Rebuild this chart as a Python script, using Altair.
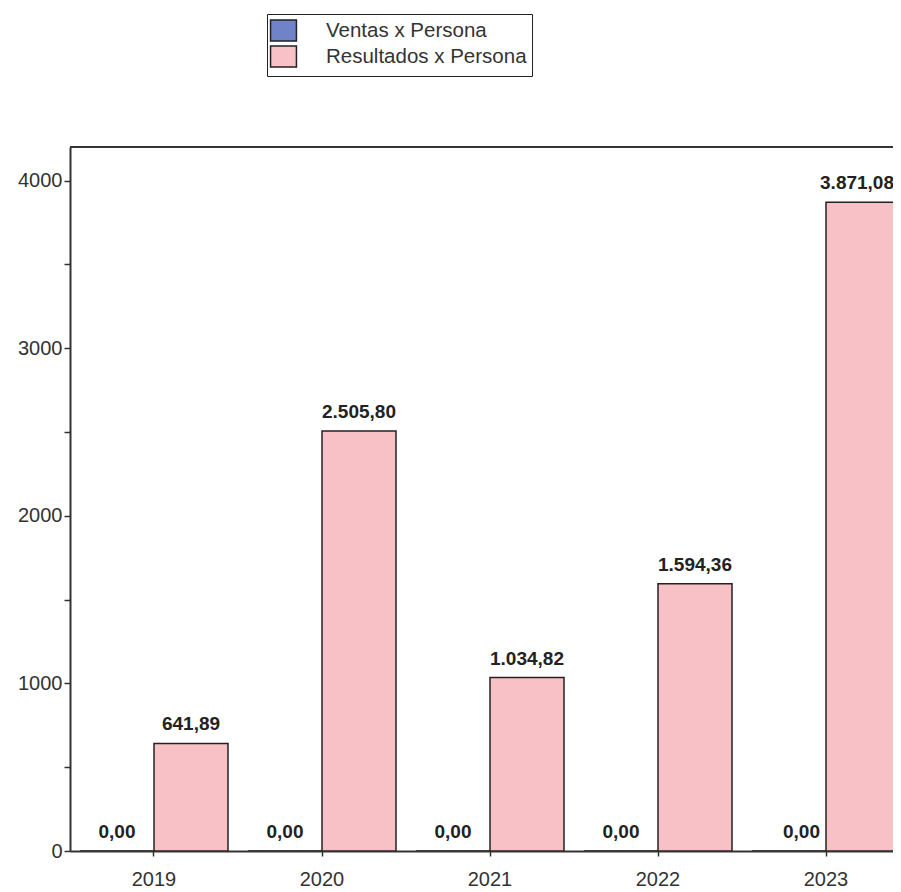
import altair as alt
import pandas as pd

years = ["2019", "2020", "2021", "2022", "2023"]
series = ["Ventas x Persona", "Resultados x Persona"]
ventas = [0.0, 0.0, 0.0, 0.0, 0.0]
resultados = [641.89, 2505.80, 1034.82, 1594.36, 3871.08]
colors = ["#7082c8", "#f8c1c5"]
y_ticks = [0, 500, 1000, 1500, 2000, 2500, 3000, 3500, 4000]


def es_fmt(v):
    s = f"{v:,.2f}"
    return s.replace(",", "X").replace(".", ",").replace("X", ".")


rows = []
for i, y in enumerate(years):
    rows.append({"year": y, "serie": series[0], "value": ventas[i], "label": es_fmt(ventas[i])})
    rows.append({"year": y, "serie": series[1], "value": resultados[i], "label": es_fmt(resultados[i])})
df = pd.DataFrame(rows)

FONT = "Liberation Sans"

xscale = alt.Scale(range=[0, 840], paddingInner=0.119, paddingOuter=0.0595)
yscale = alt.Scale(domain=[0, 4200], nice=False)

base = alt.Chart(df).encode(
    x=alt.X("year:N", scale=xscale, sort=years,
            axis=alt.Axis(title=None, labelAngle=0, labelFont=FONT, labelFontSize=20,
                          labelColor="#333", tickSize=5, tickColor="#333", tickWidth=1.5,
                          domainColor="#333", domainWidth=2, labelPadding=13)),
    xOffset=alt.XOffset("serie:N", sort=series, scale=alt.Scale(paddingInner=0, paddingOuter=0)),
    y=alt.Y("value:Q", scale=yscale,
            axis=alt.Axis(title=None, values=y_ticks, format="d",
                          labelExpr="datum.value % 1000 == 0 ? datum.label : ''",
                          labelFont=FONT, labelFontSize=20, labelColor="#333",
                          tickSize=6, tickColor="#333", tickWidth=1.5,
                          domainColor="#333", domainWidth=2, labelPadding=2, grid=False)),
)

symbol_path = "M-1.22,-1L1.22,-1L1.22,1L-1.22,1Z"

bars = base.mark_bar(stroke="#222", strokeWidth=1.5, clip=True).encode(
    color=alt.Color("serie:N", sort=series,
                    scale=alt.Scale(domain=series, range=colors),
                    legend=alt.Legend(orient="none", legendX=197, legendY=-133, title=None,
                                      strokeColor="#222", fillColor="white", padding=5,
                                      symbolType=symbol_path, symbolSize=450,
                                      symbolStrokeColor="#222", symbolStrokeWidth=1.5,
                                      symbolOpacity=1, labelLimit=0,
                                      labelFont=FONT, labelFontSize=20.5, labelColor="#333",
                                      labelOffset=31, rowPadding=-3)),
)

texts = base.mark_text(baseline="bottom", dy=-9, font=FONT, fontSize=19,
                       fontWeight="bold", color="#222", clip=False).encode(
    text="label:N").transform_filter(alt.datum.year != years[-1])

texts_last = base.mark_text(baseline="bottom", dy=-9, dx=31, align="right", font=FONT,
                            fontSize=19, fontWeight="bold", color="#222", clip=False).encode(
    text="label:N").transform_filter(alt.datum.year == years[-1])

top_line = alt.Chart(df).mark_rule(color="#333", strokeWidth=2).encode(
    x=alt.value(0), x2=alt.value(840), y=alt.value(0))

chart = alt.layer(bars, texts, texts_last, top_line).properties(
    width=823, height=704,
    autosize=alt.AutoSizeParams(type="none"),
    padding={"left": 62, "top": 139, "right": 0, "bottom": 40},
).configure_view(stroke=None).configure(background="white")

chart.save("out.html", embed_options={"renderer": "svg", "actions": False})
